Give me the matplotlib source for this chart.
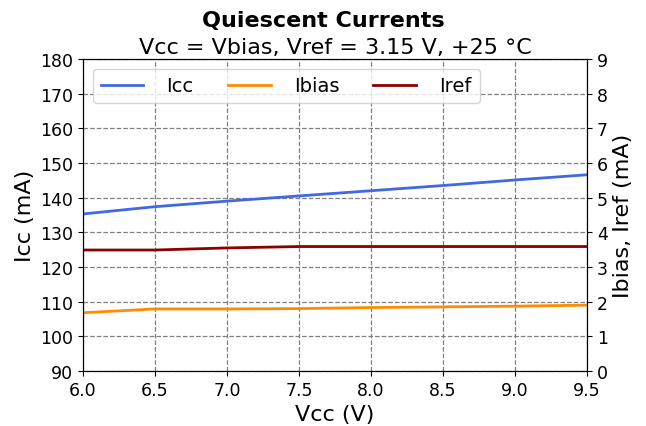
import numpy as np
import matplotlib.pyplot as plt

vcc = [6.0, 6.5, 7.0, 7.5, 8.0, 8.5, 9.0, 9.5]
icc = [135.3, 137.4, 139.0, 140.5, 142.0, 143.5, 145.1, 146.6]
ibias = [1.68, 1.79, 1.79, 1.80, 1.83, 1.85, 1.87, 1.90]
iref = [3.49, 3.49, 3.55, 3.59, 3.59, 3.59, 3.59, 3.59]

fig = plt.figure(figsize=(6.46, 4.27), dpi=100)
ax1 = fig.add_subplot()
ax2 = ax1.twinx()

l1, = ax1.plot(vcc, icc, color='royalblue', lw=2, label='Icc')
l2, = ax2.plot(vcc, ibias, color='darkorange', lw=2, label='Ibias')
l3, = ax2.plot(vcc, iref, color='darkred', lw=2, label='Iref')

ax1.set_xlim(6.0, 9.5)
ax1.set_ylim(90, 180)
ax2.set_ylim(0, 9)
ax1.set_xticks(np.arange(6.0, 9.51, 0.5))
ax1.set_yticks(np.arange(90, 181, 10))
ax2.set_yticks(np.arange(0, 10, 1))
ax1.tick_params(labelsize=12.5)
ax2.tick_params(labelsize=12.5)
ax1.grid(True, color='gray', linestyle='--', lw=0.9)

ax1.set_xlabel('Vcc (V)', fontsize=16)
ax1.set_ylabel('Icc (mA)', fontsize=16)
ax2.set_ylabel('Ibias, Iref (mA)', fontsize=16)

fig.text(0.5, 0.937, 'Quiescent Currents', ha='center', va='baseline',
         fontsize=16, fontweight='bold')
ax1.set_title('Vcc = Vbias, Vref = 3.15 V, +25 °C', fontsize=16, pad=4)

ax1.legend(handles=[l1, l2, l3], loc='upper left', ncol=3, fontsize=14,
           handlelength=2.2, handletextpad=1.2, columnspacing=1.75)

fig.subplots_adjust(left=0.1285, right=0.9087, top=0.8595, bottom=0.1288)
plt.savefig('out.png', dpi=100)
